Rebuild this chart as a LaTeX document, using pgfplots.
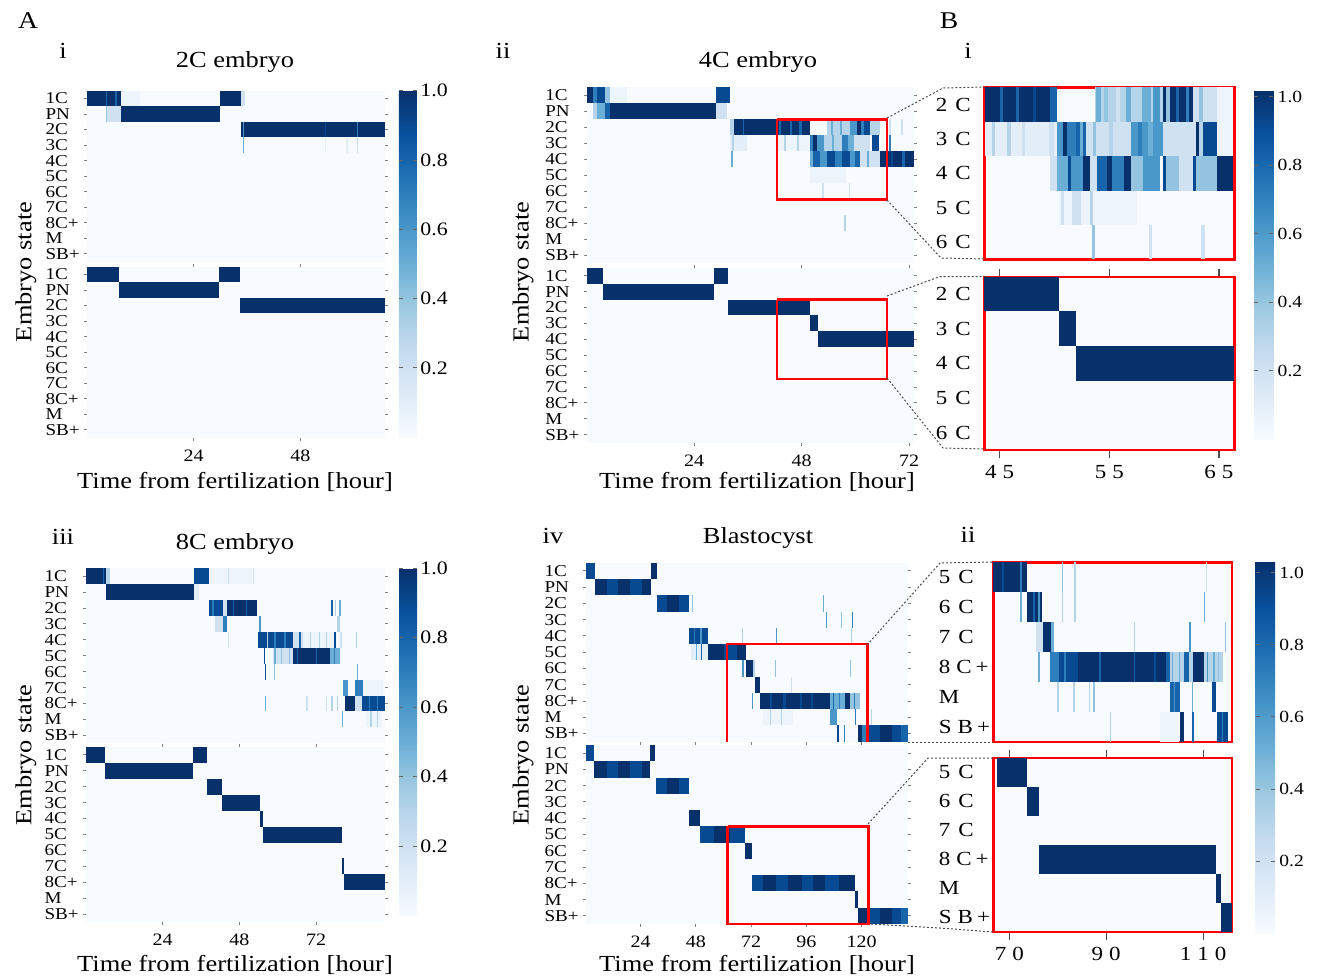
\documentclass[border=0pt]{standalone}
\usepackage{fontspec}
\setmainfont{Liberation Serif}[FakeStretch=1.15]
\usepackage{pgfplots}
\pgfplotsset{compat=1.18}
\definecolor{c0}{RGB}{247,251,255}
\definecolor{c05}{RGB}{237,244,252}
\definecolor{c1}{RGB}{227,238,249}
\definecolor{c2}{RGB}{208,225,242}
\definecolor{c3}{RGB}{182,212,233}
\definecolor{c4}{RGB}{148,196,223}
\definecolor{c5}{RGB}{107,174,214}
\definecolor{c6}{RGB}{74,152,201}
\definecolor{c7}{RGB}{46,126,188}
\definecolor{c8}{RGB}{23,100,171}
\definecolor{c9}{RGB}{8,74,146}
\definecolor{c10}{RGB}{8,48,107}
\newcommand\fbig{\fontsize{11.5}{13}\selectfont}
% one heatmap cell run: row, start hour, end hour, colour
\newcommand{\seg}[4]{%
  \pgfmathsetmacro\ya{#1-0.5}\pgfmathsetmacro\yb{#1+0.5}%
  \edef\tmp{\noexpand\addplot[draw=none, fill=#4, forget plot] coordinates {(#2,\ya) (#3,\ya) (#3,\yb) (#2,\yb)};}\tmp}
\pgfplotsset{
  colormap={blues}{rgb255=(247,251,255) rgb255=(222,235,247) rgb255=(198,219,239) rgb255=(158,202,225) rgb255=(107,174,214) rgb255=(66,146,198) rgb255=(33,113,181) rgb255=(8,81,156) rgb255=(8,48,107)},
  colorbar shift/.style={},
  pos/.style 2 args={at={(#1*0.5pt,-#2*0.5pt)}, anchor=north west},
  hm/.style={scale only axis, axis background/.style={fill=c0}, axis line style={draw=none},
    y dir=reverse, ymin=-0.5, ymax=10.5, ytick={0,...,10},
    yticklabels={1C,PN,2C,3C,4C,5C,6C,7C,8C+,M,SB+},
    yticklabel style={font=\fontsize{8.3}{8}\selectfont, text width=18pt, align=left, inner sep=1pt},
    tick align=outside, major tick length=1.5pt, tick style={black!50, line width=0.5pt},
    xtick=\empty, clip=false,
    xticklabel style={font=\fontsize{8.7}{9}\selectfont, yshift=-1pt}},
  bst/.style={scale only axis, axis background/.style={fill=c0},
    axis line style={draw=red, line width=1.2pt}, y dir=reverse,
    tick align=outside, major tick length=4pt, ytick style={draw=none},
    xtick style={black!70, line width=0.6pt},
    yticklabel style={font=\fontsize{10}{10}\selectfont, align=left, inner sep=1pt},
    xticklabel style={font=\fontsize{10}{10}\selectfont},
    xtick=\empty, clip=false},
  cb/.style={at={(parent axis.north east)}, anchor=north west, scale only axis, y dir=normal,
    axis line style={draw=none}, ytick={0.2,0.4,0.6,0.8,1.0},
    yticklabels={0.2,0.4,0.6,0.8,1.0}, major tick length=2pt,
    tick style={black!60, line width=0.5pt}},
}
\begin{document}
\begin{tikzpicture}
\useasboundingbox (0,0) rectangle (662.5pt,-489.5pt);

% ================= A i : 2C embryo =================
\begin{axis}[hm, pos={87}{90.7}, width=149pt, height=85.5pt, xmin=0, xmax=67,
  colorbar, colormap name=blues, point meta min=0, point meta max=1,
  colorbar style={cb, xshift=7pt, width=9pt, height=173.3pt,
    yticklabel style={font=\fontsize{9.5}{10}\selectfont, inner sep=1.5pt}}]
\seg{0}{0}{7.7}{c10}\seg{0}{4.2}{4.6}{c8}\seg{0}{6.2}{6.8}{c8}\seg{0}{7.7}{12.0}{c05}
\seg{1}{4.3}{7.7}{c2}\seg{1}{4.3}{4.6}{c4}
\seg{1}{7.7}{29.9}{c10}
\seg{0}{29.9}{34.7}{c10}\seg{0}{34.7}{35.5}{c2}
\seg{2}{34.7}{67}{c10}\seg{2}{35.0}{35.4}{c6}\seg{2}{53.4}{53.8}{c9}\seg{2}{60.6}{61.0}{c7}
\seg{3}{35.0}{35.4}{c5}\seg{3}{53.4}{53.8}{c1}\seg{3}{58.3}{58.7}{c1}\seg{3}{60.6}{61.0}{c2}
\end{axis}
\begin{axis}[hm, pos={87}{266.7}, width=149pt, height=85.5pt, xmin=0, xmax=67,
  xtick={24,48}, xticklabels={24,48}]
\seg{0}{0}{7.3}{c10}
\seg{1}{7.3}{29.6}{c10}
\seg{0}{29.6}{34.4}{c10}
\seg{2}{34.4}{67}{c10}
\end{axis}

% ================= A ii : 4C embryo =================
\begin{axis}[hm, pos={586.7}{87.3}, width=163.65pt, height=88pt, xmin=0, xmax=73.1]
\seg{0}{0}{1.5}{c10}\seg{0}{1.5}{2.3}{c7}\seg{0}{2.3}{4.1}{c9}\seg{0}{4.1}{5.2}{c4}\seg{0}{5.2}{9}{c05}
\seg{1}{1.5}{2.3}{c3}\seg{1}{2.3}{4.1}{c5}\seg{1}{4.1}{5.2}{c8}\seg{1}{5.2}{28.9}{c10}\seg{1}{28.9}{31.3}{c2}
\seg{0}{28.9}{31.9}{c9}
\seg{2}{31.9}{32.8}{c3}\seg{2}{32.8}{49.9}{c10}
\seg{2}{34.8}{35.2}{c8}\seg{2}{43.0}{43.5}{c8}\seg{2}{45.3}{45.8}{c8}\seg{2}{47.5}{48.0}{c8}
\seg{2}{53.6}{58.8}{c3}\seg{2}{54.5}{55.0}{c5}\seg{2}{56.5}{57.0}{c5}\seg{2}{58.8}{60.3}{c6}
\seg{2}{60.3}{61.3}{c10}\seg{2}{61.3}{62.0}{c7}\seg{2}{62.0}{63.3}{c9}\seg{2}{63.3}{65.5}{c3}
\seg{2}{67.5}{68.0}{c2}\seg{2}{70.3}{70.7}{c2}
\seg{3}{31.9}{35.8}{c1}\seg{3}{32.5}{33.0}{c3}\seg{3}{42.5}{49.9}{c05}\seg{3}{44}{44.4}{c3}\seg{3}{47}{47.4}{c3}
\seg{3}{49.9}{50.5}{c7}\seg{3}{50.5}{51.5}{c10}\seg{3}{51.5}{52.9}{c6}\seg{3}{52.9}{57.0}{c3}
\seg{3}{54.8}{55.3}{c5}\seg{3}{57.0}{58.3}{c7}\seg{3}{58.3}{59.6}{c5}\seg{3}{59.6}{63.3}{c2}
\seg{3}{63.7}{65.2}{c9}\seg{3}{67.5}{67.9}{c7}
\seg{4}{32.2}{32.6}{c5}\seg{4}{49.9}{50.6}{c5}\seg{4}{50.6}{52.0}{c8}\seg{4}{52.0}{53.6}{c6}
\seg{4}{53.6}{55.5}{c9}\seg{4}{55.5}{57.0}{c7}\seg{4}{57.0}{58.8}{c9}\seg{4}{58.8}{60.0}{c6}
\seg{4}{60.0}{61.1}{c8}\seg{4}{61.1}{65.5}{c2}\seg{4}{62.5}{63.0}{c5}\seg{4}{65.5}{73.1}{c10}
\seg{4}{68}{68.4}{c9}\seg{4}{70.5}{71}{c8}
\seg{5}{49.9}{58}{c05}
\seg{6}{52.6}{53.0}{c2}\seg{6}{58.5}{58.9}{c2}
\seg{8}{57.4}{57.9}{c3}
\addplot[red, line width=1.2pt, forget plot] coordinates {(42.5,1.5) (67.1,1.5) (67.1,6.5) (42.5,6.5) (42.5,1.5)};
\end{axis}
\begin{axis}[hm, pos={586.7}{267.7}, width=163.65pt, height=87.5pt, xmin=0, xmax=73.1,
  xtick={24,48,72}, xticklabels={24,48,72}]
\seg{0}{0}{3.6}{c10}
\seg{1}{3.6}{28.5}{c10}
\seg{0}{28.5}{31.5}{c10}
\seg{2}{31.5}{49.8}{c10}
\seg{3}{49.8}{51.6}{c10}
\seg{4}{51.6}{73.1}{c10}
\addplot[red, line width=1.2pt, forget plot] coordinates {(42.5,1.5) (67.1,1.5) (67.1,6.5) (42.5,6.5) (42.5,1.5)};
\end{axis}

% ================= A iii : 8C embryo =================
\begin{axis}[hm, pos={86}{568.3}, width=149.5pt, height=87.5pt, xmin=0, xmax=93.6,
  colorbar, colormap name=blues, point meta min=0, point meta max=1,
  colorbar style={cb, xshift=7pt, width=9pt, height=173.7pt,
    yticklabel style={font=\fontsize{9.5}{10}\selectfont, inner sep=1.5pt}}]
\seg{0}{0}{6.3}{c10}\seg{0}{5.2}{5.6}{c8}\seg{0}{6.3}{7.5}{c3}
\seg{1}{6.3}{33.9}{c10}\seg{1}{33.9}{35.5}{c1}
\seg{0}{33.9}{38.5}{c9}\seg{0}{38.5}{52}{c05}\seg{0}{44.4}{44.8}{c2}\seg{0}{52.2}{52.6}{c2}
\seg{2}{38.5}{42.8}{c9}\seg{2}{39.5}{40.0}{c7}\seg{2}{42.8}{44.0}{c2}\seg{2}{44.0}{53.6}{c10}
\seg{2}{46}{46.4}{c8}\seg{2}{50}{50.4}{c8}\seg{2}{76.7}{77.2}{c8}\seg{2}{78}{78.4}{c3}\seg{2}{79.3}{79.7}{c5}
\seg{3}{40.5}{43.0}{c2}\seg{3}{43.0}{44.0}{c7}\seg{3}{54.3}{54.8}{c6}\seg{3}{78.5}{79.5}{c3}
\seg{4}{44.3}{44.7}{c2}\seg{4}{53.9}{56.6}{c9}\seg{4}{56.6}{57.1}{c3}\seg{4}{57.1}{64.9}{c9}
\seg{4}{59}{59.5}{c7}\seg{4}{62}{62.5}{c7}\seg{4}{64.9}{68.0}{c2}\seg{4}{66.8}{67.2}{c8}
\seg{4}{68}{77.5}{c05}\seg{4}{70}{70.4}{c3}\seg{4}{73}{73.4}{c3}\seg{4}{75}{75.4}{c3}
\seg{4}{77.7}{78.1}{c9}\seg{4}{79.5}{80}{c2}\seg{4}{84.5}{84.9}{c3}
\seg{5}{55.6}{56.0}{c9}\seg{5}{58.5}{64.9}{c2}\seg{5}{59}{59.5}{c5}\seg{5}{61}{61.5}{c4}\seg{5}{63.5}{64}{c4}
\seg{5}{64.9}{76.4}{c10}\seg{5}{66}{66.4}{c8}\seg{5}{72}{72.4}{c8}\seg{5}{76.4}{79.5}{c5}\seg{5}{77.5}{78}{c7}
\seg{6}{56.0}{56.4}{c9}\seg{6}{58.8}{59.2}{c4}\seg{6}{84.8}{85.2}{c5}
\seg{7}{80.6}{82.1}{c6}\seg{7}{84.2}{86.8}{c7}\seg{7}{86.8}{93}{c05}
\seg{8}{56.0}{56.4}{c5}\seg{8}{69}{69.4}{c2}\seg{8}{75}{75.4}{c2}\seg{8}{76.8}{77.2}{c3}\seg{8}{78.5}{78.9}{c3}
\seg{8}{81.1}{84.2}{c10}\seg{8}{84.2}{86.3}{c2}\seg{8}{86.3}{93.6}{c9}\seg{8}{88.5}{89}{c7}\seg{8}{91}{91.5}{c7}
\seg{9}{80.2}{80.6}{c5}\seg{9}{87.8}{92.6}{c05}\seg{9}{89}{89.4}{c3}\seg{9}{91}{91.4}{c3}
\end{axis}
\begin{axis}[hm, pos={86}{746.7}, width=149.5pt, height=87.8pt, xmin=0, xmax=93.6,
  xtick={24,48,72}, xticklabels={24,48,72}]
\seg{0}{0}{5.9}{c10}
\seg{1}{5.9}{33.6}{c10}
\seg{0}{33.6}{37.8}{c10}
\seg{2}{37.8}{42.5}{c10}
\seg{3}{42.5}{54.5}{c10}
\seg{4}{54.5}{55.5}{c10}
\seg{5}{55.5}{80.0}{c10}
\seg{7}{80.0}{80.9}{c10}
\seg{8}{80.9}{93.6}{c10}
\end{axis}

% ================= A iv : Blastocyst =================
\begin{axis}[hm, pos={586}{562.7}, width=161pt, height=89.5pt, xmin=0.3, xmax=140.1]
\seg{0}{0.3}{4.2}{c9}
\seg{1}{4.2}{9.2}{c10}\seg{1}{9.2}{14.3}{c9}\seg{1}{14.3}{19.6}{c10}\seg{1}{19.6}{24.7}{c9}\seg{1}{24.7}{28.5}{c10}
\seg{0}{28.5}{31.0}{c10}
\seg{2}{31.0}{35.3}{c9}\seg{2}{35.3}{40.8}{c10}\seg{2}{40.8}{45.1}{c9}\seg{2}{46.4}{46.8}{c4}\seg{2}{103.2}{103.6}{c5}
\seg{3}{104.7}{105.1}{c6}\seg{3}{111.2}{111.6}{c4}\seg{3}{115.9}{116.3}{c7}
\seg{4}{45.1}{53.4}{c9}\seg{4}{47}{47.5}{c7}\seg{4}{50}{50.5}{c6}\seg{4}{68.1}{68.5}{c3}\seg{4}{82.6}{83.0}{c6}\seg{4}{115.5}{115.9}{c3}
\seg{5}{46}{53.4}{c1}\seg{5}{48}{48.4}{c5}\seg{5}{50.3}{50.7}{c8}\seg{5}{53.4}{60}{c10}\seg{5}{60}{66}{c9}\seg{5}{66}{69.8}{c10}
\seg{6}{68.2}{69.0}{c6}\seg{6}{69.8}{72.9}{c10}\seg{6}{72.9}{73.5}{c3}\seg{6}{82.5}{82.9}{c4}\seg{6}{114.8}{115.2}{c4}
\seg{7}{73.7}{75.8}{c10}\seg{7}{89.5}{89.9}{c2}
\seg{8}{72.4}{72.8}{c6}\seg{8}{75.8}{106.3}{c10}\seg{8}{80}{81}{c9}\seg{8}{86}{87}{c9}\seg{8}{93}{94}{c9}\seg{8}{98}{99}{c9}
\seg{8}{106.3}{112.8}{c5}\seg{8}{107.5}{108}{c8}\seg{8}{110}{110.5}{c7}\seg{8}{112.8}{114.9}{c10}\seg{8}{114.9}{119.3}{c4}\seg{8}{116.5}{117}{c7}
\seg{9}{77}{90}{c05}\seg{9}{80}{80.4}{c3}\seg{9}{85}{85.4}{c3}\seg{9}{106.3}{109.2}{c6}\seg{9}{117.1}{117.7}{c7}\seg{9}{124.2}{124.6}{c3}
\seg{10}{109.2}{110.3}{c9}\seg{10}{112.2}{112.7}{c7}\seg{10}{118.6}{120.3}{c10}\seg{10}{120.3}{122}{c7}
\seg{10}{122}{128}{c9}\seg{10}{128}{133}{c10}\seg{10}{133}{137}{c9}\seg{10}{137}{140.1}{c8}
\addplot[red, line width=1.2pt, forget plot] coordinates {(61.4,10.5) (61.4,4.5) (122.5,4.5) (122.5,10.5)};
\end{axis}
\begin{axis}[hm, pos={586}{745}, width=161pt, height=89.5pt, xmin=0.3, xmax=140.1,
  xtick={24,48,72,96,120}, xticklabels={24,48,72,96,120}]
\seg{0}{0.3}{3.9}{c9}
\seg{1}{3.9}{9.2}{c10}\seg{1}{9.2}{14.3}{c9}\seg{1}{14.3}{19.6}{c10}\seg{1}{19.6}{24.7}{c9}\seg{1}{24.7}{28.1}{c10}
\seg{0}{28.1}{30.3}{c10}
\seg{2}{30.6}{35.3}{c9}\seg{2}{35.3}{40.8}{c10}\seg{2}{40.8}{44.8}{c9}
\seg{4}{44.8}{49.8}{c10}
\seg{5}{49.8}{56}{c9}\seg{5}{56}{63}{c10}\seg{5}{63}{69.3}{c9}
\seg{6}{69.3}{72.2}{c10}
\seg{8}{72.2}{77}{c9}\seg{8}{77}{83}{c10}\seg{8}{83}{88}{c9}\seg{8}{88}{94}{c10}
\seg{8}{94}{99}{c9}\seg{8}{99}{104}{c10}\seg{8}{104}{110}{c9}\seg{8}{110}{117.1}{c10}
\seg{9}{117.1}{118.6}{c10}
\seg{10}{118.6}{123}{c10}\seg{10}{123}{128}{c9}\seg{10}{128}{133}{c10}\seg{10}{133}{137}{c9}\seg{10}{137}{140.1}{c8}
\addplot[red, line width=1.2pt, forget plot] coordinates {(61.8,4.5) (122.9,4.5) (122.9,10.5) (61.8,10.5) (61.8,4.5)};
\end{axis}

% ================= B i =================
\begin{axis}[bst, pos={984.3}{87.3}, width=125pt, height=86pt, xmin=43.6, xmax=66.4,
  ymin=1.5, ymax=6.5, ytick={2,...,6},
  yticklabels={2\kern4pt C,3\kern4pt C,4\kern4pt C,5\kern4pt C,6\kern4pt C},
  yticklabel style={text width=19pt},
  colorbar, colormap name=blues, point meta min=0, point meta max=1.02,
  colorbar style={cb, xshift=9.85pt, yshift=-1.35pt, width=9.65pt, height=174.5pt,
    yticklabel style={font=\fontsize{8.5}{9}\selectfont, inner sep=2pt}}]
\seg{2}{43.7}{50.2}{c10}\seg{2}{45.0}{45.3}{c8}\seg{2}{46.5}{46.8}{c8}\seg{2}{48.0}{48.3}{c9}\seg{2}{49.6}{50.2}{c8}
\seg{2}{53.7}{59.9}{c3}\seg{2}{53.8}{54.2}{c5}\seg{2}{54.5}{54.9}{c4}\seg{2}{55.6}{56.0}{c2}\seg{2}{56.5}{57.0}{c5}
\seg{2}{58.0}{58.8}{c5}\seg{2}{59.0}{59.6}{c6}\seg{2}{59.9}{60.2}{c10}\seg{2}{60.2}{60.5}{c4}\seg{2}{60.5}{62.6}{c10}
\seg{2}{61.1}{61.4}{c8}\seg{2}{62.0}{62.3}{c7}\seg{2}{62.6}{64.8}{c2}\seg{2}{63.2}{63.5}{c4}\seg{2}{64.8}{66.3}{c05}
\seg{3}{43.7}{50.2}{c1}\seg{3}{44.3}{44.6}{c3}\seg{3}{45.7}{46.0}{c3}\seg{3}{47.0}{47.3}{c2}\seg{3}{49.5}{50.0}{c2}
\seg{3}{50.2}{50.8}{c6}\seg{3}{50.8}{51.1}{c10}\seg{3}{51.1}{52.0}{c7}\seg{3}{52.0}{52.9}{c8}\seg{3}{52.3}{52.6}{c5}
\seg{3}{52.9}{57.0}{c2}\seg{3}{53.5}{53.8}{c4}\seg{3}{55.0}{55.3}{c3}\seg{3}{57.0}{59.9}{c6}\seg{3}{57.6}{58.0}{c7}
\seg{3}{58.5}{59.0}{c5}\seg{3}{59.9}{62.9}{c2}\seg{3}{62.9}{63.2}{c10}\seg{3}{63.2}{63.5}{c3}\seg{3}{63.5}{64.8}{c9}\seg{3}{64.8}{66.3}{c05}
\seg{4}{49.6}{50.2}{c2}\seg{4}{50.2}{51.2}{c5}\seg{4}{51.2}{51.5}{c9}\seg{4}{51.5}{52.6}{c6}\seg{4}{52.6}{53.2}{c10}
\seg{4}{53.2}{53.9}{c2}\seg{4}{53.9}{54.8}{c8}\seg{4}{54.8}{55.2}{c10}\seg{4}{55.2}{56.3}{c7}\seg{4}{56.3}{57.0}{c10}
\seg{4}{57.0}{58.1}{c4}\seg{4}{58.1}{59.6}{c6}\seg{4}{59.9}{60.2}{c9}\seg{4}{60.2}{61.4}{c4}\seg{4}{61.4}{62.6}{c2}
\seg{4}{62.6}{62.9}{c9}\seg{4}{62.9}{64.8}{c4}\seg{4}{64.8}{66.3}{c10}
\seg{5}{50.4}{57.5}{c05}\seg{5}{50.6}{50.9}{c2}\seg{5}{51.6}{52.4}{c2}\seg{5}{53.2}{53.5}{c3}
\seg{6}{53.4}{53.7}{c4}\seg{6}{58.6}{58.9}{c2}\seg{6}{63.4}{63.7}{c2}
\end{axis}
\begin{axis}[bst, pos={984.3}{276.7}, width=125pt, height=86.7pt, xmin=43.6, xmax=66.4,
  ymin=1.5, ymax=6.5, ytick={2,...,6},
  yticklabels={2\kern4pt C,3\kern4pt C,4\kern4pt C,5\kern4pt C,6\kern4pt C},
  yticklabel style={text width=19pt},
  xtick={45,55,65}, xticklabels={4\kern3pt 5,5\kern3pt 5,6\kern3pt 5}]
\seg{2}{43.6}{50.4}{c10}
\seg{3}{50.4}{52.0}{c10}
\seg{4}{52.0}{66.4}{c10}
\end{axis}

% ================= B ii =================
\begin{axis}[bst, pos={993.3}{562.3}, width=119.2pt, height=89.7pt, xmin=66.7, xmax=115.9,
  ymin=4.5, ymax=10.5, ytick={5,...,10},
  yticklabels={5\kern4pt C,6\kern4pt C,7\kern4pt C,8\kern3pt C\kern2pt+,M,S\kern3pt B\kern2pt+},
  yticklabel style={text width=22pt},
  colorbar, colormap name=blues, point meta min=0, point meta max=1.03,
  colorbar style={cb, xshift=12pt, yshift=0.3pt, width=9.65pt, height=185.8pt,
    yticklabel style={font=\fontsize{8.5}{9}\selectfont, inner sep=2pt}}]
\seg{5}{66.7}{72.2}{c10}\seg{5}{68.5}{69}{c9}\seg{5}{72.2}{72.6}{c7}\seg{5}{72.6}{73.6}{c10}
\seg{5}{80.8}{81.1}{c4}\seg{5}{83.4}{83.7}{c3}\seg{5}{110.5}{110.8}{c2}
\seg{6}{72.2}{72.6}{c5}\seg{6}{73.6}{76.8}{c10}\seg{6}{74.8}{75.2}{c8}\seg{6}{76.0}{76.4}{c6}
\seg{6}{80.8}{81.1}{c3}\seg{6}{83.4}{83.7}{c3}\seg{6}{110.1}{110.4}{c5}
\seg{7}{75.5}{76.9}{c2}\seg{7}{76.9}{78.7}{c10}\seg{7}{78.7}{79.2}{c5}\seg{7}{95.7}{96.0}{c3}
\seg{7}{107.1}{107.4}{c6}\seg{7}{114.5}{114.8}{c4}
\seg{8}{75.9}{76.4}{c5}\seg{8}{78.5}{80.3}{c7}\seg{8}{80.3}{84.2}{c9}\seg{8}{81.2}{81.6}{c7}
\seg{8}{84.2}{103.1}{c10}\seg{8}{88.5}{88.9}{c8}\seg{8}{95.7}{96.0}{c8}\seg{8}{99.8}{100.2}{c9}
\seg{8}{102.3}{103.1}{c8}\seg{8}{103.1}{106.1}{c3}\seg{8}{103.5}{103.8}{c5}\seg{8}{105.0}{105.3}{c5}
\seg{8}{106.1}{107.0}{c8}\seg{8}{107.0}{108.0}{c3}\seg{8}{108.0}{110.1}{c10}\seg{8}{110.1}{114.0}{c3}
\seg{8}{110.7}{111.1}{c6}\seg{8}{112.0}{112.4}{c5}\seg{8}{113.0}{113.3}{c4}
\seg{9}{79.9}{80.2}{c3}\seg{9}{83.2}{83.5}{c3}\seg{9}{86.4}{86.7}{c3}\seg{9}{87.3}{87.6}{c4}
\seg{9}{103.1}{105.3}{c8}\seg{9}{103.9}{104.2}{c6}\seg{9}{107.6}{107.9}{c5}\seg{9}{111.9}{112.7}{c9}
\seg{10}{90.7}{91.0}{c3}\seg{10}{101}{105}{c05}\seg{10}{105.3}{106.0}{c10}\seg{10}{107.7}{108.2}{c8}
\seg{10}{112.9}{115.2}{c9}\seg{10}{113.8}{114.2}{c7}
\end{axis}
\begin{axis}[bst, pos={993.3}{757.7}, width=119.2pt, height=87pt, xmin=66.7, xmax=115.9,
  ymin=4.5, ymax=10.5, ytick={5,...,10},
  yticklabels={5\kern4pt C,6\kern4pt C,7\kern4pt C,8\kern3pt C\kern2pt+,M,S\kern3pt B\kern2pt+},
  yticklabel style={text width=22pt},
  xtick={70,90,110}, xticklabels={7\kern3pt 0,9\kern3pt 0,1\kern3pt 1\kern3pt 0}]
\seg{5}{67.4}{73.6}{c10}
\seg{6}{73.6}{76.1}{c10}
\seg{8}{76.1}{112.7}{c10}
\seg{9}{112.7}{113.7}{c10}
\seg{10}{113.7}{115.9}{c10}
\end{axis}

% ================= texts and connectors =================
\begin{scope}[x=0.5pt, y=-0.5pt]
\node[font=\fontsize{12}{12}\selectfont] at (28,21) {A};
\node[font=\fontsize{12}{12}\selectfont] at (949,21) {B};
\node[font=\fbig] at (63,51) {i};
\node[font=\fbig] at (503,51) {ii};
\node[font=\fbig] at (968,51) {i};
\node[font=\fbig] at (63,537) {iii};
\node[font=\fbig] at (553,536) {iv};
\node[font=\fbig] at (968,535) {ii};
\node[font=\fbig] at (235,62) {2C embryo};
\node[font=\fbig] at (758,62) {4C embryo};
\node[font=\fbig] at (235,544) {8C embryo};
\node[font=\fbig] at (758,538) {Blastocyst};
\node[font=\fbig, rotate=90] at (26,272) {Embryo state};
\node[font=\fbig, rotate=90] at (523,272) {Embryo state};
\node[font=\fbig, rotate=90] at (26,755) {Embryo state};
\node[font=\fbig, rotate=90] at (523,755) {Embryo state};
\node[font=\fbig] at (235,482) {Time from fertilization [hour]};
\node[font=\fbig] at (757,482) {Time from fertilization [hour]};
\node[font=\fbig] at (235,965) {Time from fertilization [hour]};
\node[font=\fbig] at (757,965) {Time from fertilization [hour]};
\begin{scope}[black!70, line width=0.5pt, dash pattern=on 1pt off 1pt]
\draw (887,118) -- (943,88) -- (985,87);
\draw (887,200) -- (941,258) -- (985,259);
\draw (887,296) -- (940,276.5) -- (985,276.5);
\draw (887,378) -- (943,448) -- (985,449);
\draw (867,645) -- (940,563) -- (993,562);
\draw (908,742) -- (993,742);
\draw (868,824) -- (928,758) -- (993,758);
\draw (871,924) -- (940,928) -- (993,932);
\end{scope}
\end{scope}
\end{tikzpicture}
\end{document}
